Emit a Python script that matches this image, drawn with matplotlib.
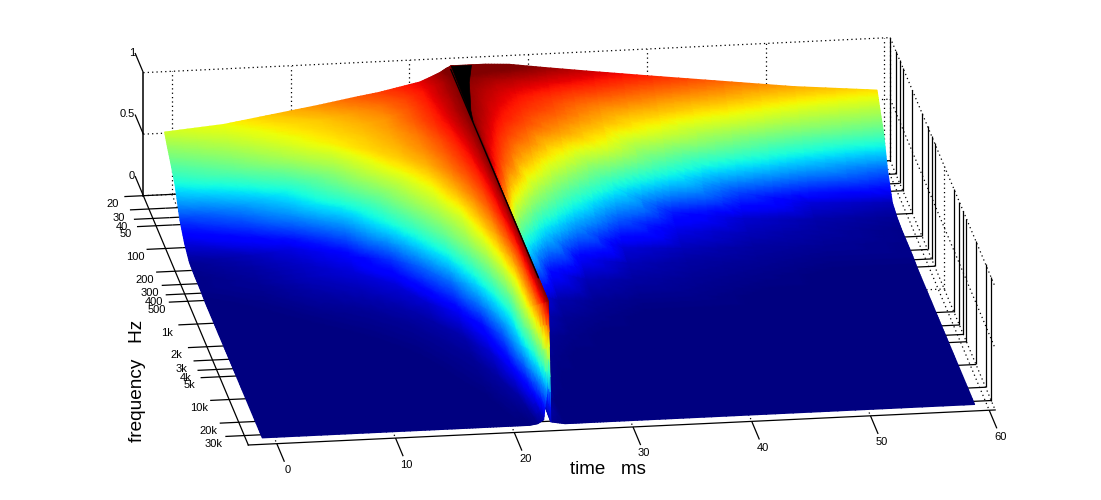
import numpy as np
import matplotlib
matplotlib.use("Agg")
import matplotlib.pyplot as plt
import matplotlib.tri as mtri
from matplotlib.collections import TriMesh
from mpl_toolkits.mplot3d import proj3d
from mpl_toolkits.mplot3d.art3d import Poly3DCollection

plt.rcParams['font.family'] = ['Liberation Sans', 'DejaVu Sans']

# ---- values ----
time_ms = [-1, 4, 8, 12, 15, 17, 19, 20.5, 21.5, 22.2, 22.7, 22.95, 23.1,
           23.3, 24.5, 25, 26, 28, 31, 35, 40, 46, 52, 59]
freq_hz = [28, 35, 45, 60, 85, 120, 170, 250, 360, 550, 950, 1500, 2500, 4500, 9000, 16000, 33000]
level = [
 [.60, .64, .70, .76, .81, .84, .88, .91, .95, .98, 1.01, 1.02, 1.03, 1.03, 1.03, 1.03, 1.03, 1.02, .98, .93, .87, .80, .73, .67],
 [.53, .60, .66, .70, .75, .79, .84, .89, .93, .96, .985, .995, 1.0, 1.0, .99, .985, .97, .95, .91, .86, .79, .72, .63, .56],
 [.46, .54, .62, .68, .72, .75, .82, .88, .93, .96, .98, .99, 1.0, .995, .97, .96, .94, .90, .85, .77, .70, .61, .52, .45],
 [.37, .46, .55, .65, .70, .74, .81, .87, .92, .95, .98, .99, 1.0, .995, .96, .945, .92, .87, .81, .71, .60, .46, .33, .22],
 [.18, .27, .37, .54, .68, .72, .78, .86, .91, .95, .98, .99, 1.0, .99, .95, .93, .89, .83, .74, .62, .40, .19, .08, .05],
 [.08, .15, .26, .44, .60, .69, .76, .83, .89, .94, .97, .99, 1.0, .985, .93, .90, .85, .77, .60, .38, .15, .07, .04, .02],
 [.02, .05, .09, .27, .48, .60, .72, .81, .87, .92, .96, .985, 1.0, .98, .90, .865, .80, .67, .45, .22, .09, .05, .03, .01],
 [.01, .03, .06, .11, .36, .52, .64, .78, .85, .90, .95, .98, 1.0, .97, .86, .82, .74, .52, .28, .08, .05, .03, .02, .01],
 [.01, .02, .05, .08, .17, .41, .57, .72, .82, .88, .94, .975, 1.0, .965, .82, .74, .60, .34, .11, .05, .03, .02, .01, .01],
 [0, .01, .03, .05, .08, .22, .47, .61, .77, .85, .92, .97, 1.0, .955, .73, .60, .38, .13, .05, .03, .02, .01, 0, 0],
 [0, 0, .01, .02, .04, .07, .23, .51, .67, .80, .90, .96, 1.0, .94, .53, .36, .11, .04, .02, .01, .01, 0, 0, 0],
 [0, 0, 0, .01, .02, .035, .10, .33, .55, .73, .88, .95, 1.0, .90, .34, .17, .05, .02, .01, 0, 0, 0, 0, 0],
 [0, 0, 0, 0, .01, .02, .04, .14, .38, .60, .82, .92, 1.0, .75, .10, .06, .02, .01, 0, 0, 0, 0, 0, 0],
 [0, 0, 0, 0, 0, .01, .02, .07, .20, .38, .65, .85, 1.0, .45, .03, .02, .01, 0, 0, 0, 0, 0, 0, 0],
 [0, 0, 0, 0, 0, 0, .01, .03, .10, .30, .60, .82, 1.0, .18, .02, .01, 0, 0, 0, 0, 0, 0, 0, 0],
 [0, 0, 0, 0, 0, 0, 0, .015, .03, .12, .40, .78, 1.0, .05, 0, 0, 0, 0, 0, 0, 0, 0, 0, 0],
 [0, 0, 0, 0, 0, 0, 0, 0, 0, .01, .04, .25, 1.0, .02, 0, 0, 0, 0, 0, 0, 0, 0, 0, 0],
]
wedge_f = [28, 40, 60, 89, 130]
wedge_t = [24.8, 24.2, 23.8, 23.4, 23.15]
wedge_z = [1.03, .99, .985, .98, .99]
ridge_f = [28, 45, 85, 120, 170, 360, 950, 2500, 9000, 16000]
ridge_t = 23.1
ridge_z = 1.0

x_ticks = [0, 10, 20, 30, 40, 50, 60]
z_ticks = [0, 0.5, 1]
z_labels = ['0', '0.5', '1']
f_ticks = [20, 30, 40, 50, 100, 200, 300, 400, 500, 1000, 2000, 3000, 4000, 5000, 10000, 20000, 30000]
f_labels = ['20', '30', '40', '50', '100', '200', '300', '400', '500', '1k', '2k', '3k', '4k', '5k', '10k', '20k', '30k']
t_min, t_max = -2.4, 60.5
f_min, f_max = 20, 40000

# ---- axes ----
W, H = 1101, 500
fig = plt.figure(figsize=(W / 100, H / 100), dpi=100, facecolor='white')
S0 = 1000
ax = fig.add_axes([0, 0, S0 / W, S0 / H], projection='3d', proj_type='ortho', computed_zorder=False)
ax.set_axis_off()
ax.set_xlim(t_min, t_max)
ax.set_ylim(np.log10(f_max), np.log10(f_min))
ax.set_zlim(0, 1)
ax.set_box_aspect((754, 754, 130.5))
ax.view_init(elev=19.5, azim=-98)
ax.patch.set_alpha(0)

lo, hi = np.log10(f_min), np.log10(f_max)
M = ax.get_proj()

def to_disp(x, y, z):
    px, py, _ = proj3d.proj_transform(np.array([x]), np.array([y]), np.array([z]), M)
    return ax.transData.transform(np.column_stack([px, py]))[0]

# place the box on the canvas from two of its corners
ax.apply_aspect()
p1 = to_disp(t_min, hi, 0.0)
p2 = to_disp(t_max, lo, 1.0)
q1 = np.array([248.3, H - 445.0])
q2 = np.array([890.0, H - 37.3])
k = np.linalg.norm(q2 - q1) / np.linalg.norm(p2 - p1)
org = ax.get_position().bounds
ox, oy = org[0] * W, org[1] * H
Sx = org[2] * W
nx, ny = q1 - (p1 - np.array([ox, oy])) * k
ax.set_position([nx / W, ny / H, Sx * k / W, Sx * k / H])
ax.apply_aspect()

def label(x, y, z, s, dx=0, dy=0, ha='center'):
    px, py = to_disp(x, y, z)
    fig.text((px + dx) / W, (py + dy) / H, s, fontsize=8, ha=ha, va='center')

# ---- frame and grid ----
solid = dict(color='k', lw=0.9, clip_on=False, zorder=1, solid_capstyle='butt')
dots = dict(color='k', lw=0.9, clip_on=False, zorder=1, linestyle=(0, (1, 2.5)))

for z in z_ticks:
    ax.plot([t_min, t_max], [lo, lo], [z, z], **dots)
    ax.plot([t_max, t_max], [lo, hi], [z, z], **dots)
for t in x_ticks:
    ax.plot([t, t], [lo, lo], [0, 1], **dots)
    ax.plot([t, t], [lo, hi], [0, 0], **dots)
ax.plot([t_max, t_max], [lo, lo], [0, 1], **dots)

for f, lab in zip(f_ticks, f_labels):
    y = np.log10(f)
    style = dots if lab == '1k' else solid
    ax.plot([t_max, t_max], [y, y], [0, 1], **style)
    ax.plot([-1, t_max], [y, y], [0, 0], **style)
    ax.plot([-4.0, -1], [y, y], [0, 0], **solid)
    label(-5.1, y, -0.057, lab, dx=1.5)

ax.plot([t_min, t_min], [lo, lo], [0, 1], color='k', lw=1.1, clip_on=False, zorder=1)
ax.plot([t_min, t_min], [lo, hi], [0, 0], color='k', lw=0.9, clip_on=False, zorder=1)
ax.plot([t_min, t_max], [hi, hi], [0, 0], color='k', lw=0.9, clip_on=False, zorder=1)

for t in x_ticks:
    ax.plot([t, t], [hi, hi + 0.24], [0, 0], **solid)
    label(t, hi + 0.35, 0, str(t))
for z, lab in zip(z_ticks, z_labels):
    ax.plot([t_min, t_min], [lo, lo - 0.26], [z, z], **solid)
    label(t_min, lo - 0.26, z + 0.025, lab, dx=0, dy=-3, ha='right')

# ---- surface ----
T = np.array(time_ms, float)
LF = np.log10(np.array(freq_hz, float))
Z = np.array(level, float)
nr, nc = Z.shape
jj, ii = np.meshgrid(np.arange(nc, dtype=float), np.arange(nr, dtype=float))
tris = []
for i in range(nr - 1):              # far rows first
    for j in range(nc - 2, -1, -1):  # later times first
        a = i * nc + j
        tris.append([a, a + 1, a + nc + 1])
        tris.append([a, a + nc + 1, a + nc])
base = mtri.Triangulation(jj.ravel(), ii.ravel(), triangles=np.array(tris))
refiner = mtri.UniformTriRefiner(base)

def refine(field):
    return refiner.refine_field(field, triinterpolator=mtri.LinearTriInterpolator(base, field), subdiv=3)

fT, fF = np.meshgrid(T, LF)
ref, rt = refine(fT.ravel())
_, rf = refine(fF.ravel())
_, rz = refine(Z.ravel())
px, py, _ = proj3d.proj_transform(np.asarray(rt), np.asarray(rf), np.asarray(rz), M)
screen = mtri.Triangulation(np.asarray(px), np.asarray(py), triangles=ref.triangles)
mesh = TriMesh(screen, cmap='jet', norm=plt.Normalize(0, 1), zorder=3)
mesh.set_array(np.clip(np.asarray(rz), 0, 1))
mesh.do_3d_projection = lambda *a, **k: 0
ax.add_collection(mesh, autolim=False)

# black mesh lines bunched at the peak
wf = np.log10(np.array(wedge_f, float))
poly = [list(zip(wedge_t, wf, wedge_z)) + [(ridge_t, wf[-1], ridge_z), (ridge_t, wf[0], wedge_z[0])]]
pc = Poly3DCollection(poly, facecolor='k', edgecolor='k', linewidth=0.5, zorder=4)
ax.add_collection3d(pc)
ax.plot([ridge_t] * len(ridge_f), np.log10(ridge_f), [ridge_z] * len(ridge_f), color='k', lw=1.0, zorder=5)

fig.text(138 / W, 1 - 381 / H, 'frequency   Hz', rotation=90, fontsize=13.7, ha='center', va='center')
fig.text(608 / W, 1 - 470 / H, 'time   ms', fontsize=13.5, ha='center', va='center')

fig.savefig('out.png', dpi=100, facecolor='white')
